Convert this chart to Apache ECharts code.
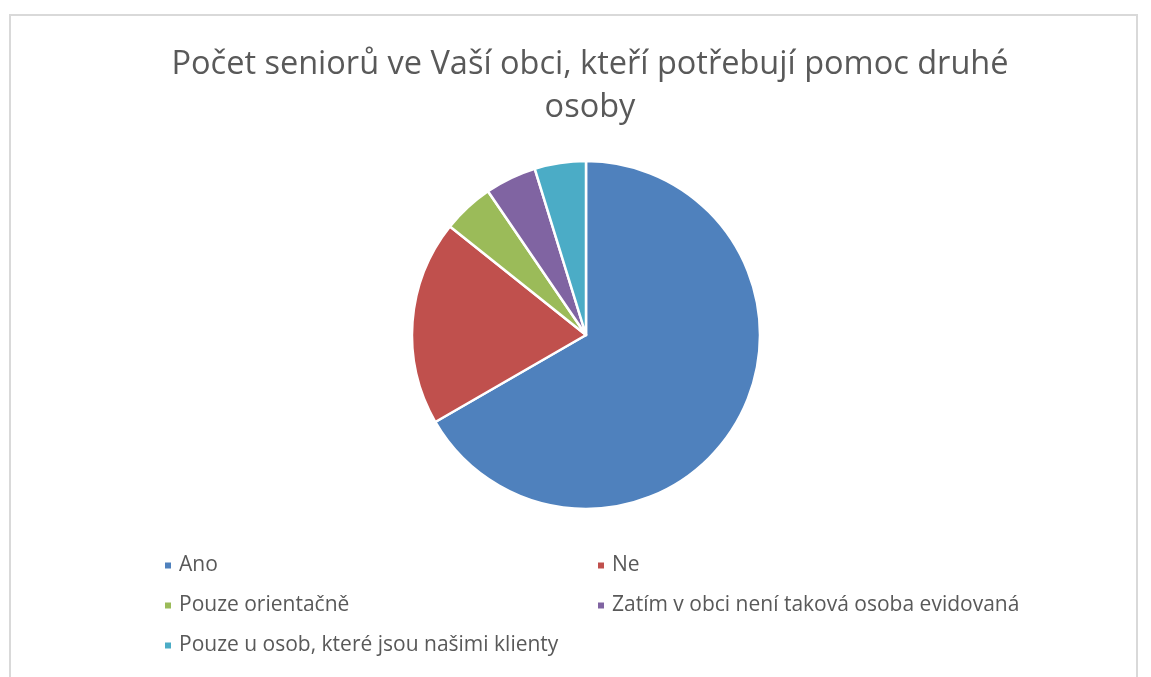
<!DOCTYPE html>
<html>
<head>
<meta charset="utf-8">
<script src="https://cdn.jsdelivr.net/npm/echarts@6/dist/echarts.min.js"></script>
<style>
html,body{margin:0;padding:0;background:#fff;}
#frame{position:absolute;left:9px;top:14px;width:1129px;height:700px;border:2px solid #d9d9d9;box-sizing:border-box;}
#chart{position:absolute;left:0;top:0;width:1151px;height:677px;}
</style>
</head>
<body>
<div id="frame"></div>
<div id="chart"></div>
<script>
const titleText = 'Počet seniorů ve Vaší obci, kteří potřebují pomoc druhé\nosoby';
const categories = ['Ano', 'Ne', 'Pouze orientačně', 'Zatím v obci není taková osoba evidovaná', 'Pouze u osob, které jsou našimi klienty'];
const values = [14, 4, 1, 1, 1];
const colors = ['#4F81BD', '#C0504D', '#9BBB59', '#8064A2', '#4BACC6'];
const legendCol1 = [categories[0], categories[2], categories[4]];
const legendCol2 = [categories[1], categories[3]];

const FONT = '"Open Sans", "Noto Sans", sans-serif';
const chart = echarts.init(document.getElementById('chart'));
const legendBase = {
  orient: 'vertical',
  top: 550,
  itemGap: 19,
  itemWidth: 8,
  itemHeight: 8,
  icon: 'rect',
  selectedMode: false,
  textStyle: {fontFamily: FONT, fontSize: 21, color: '#595959', padding: [0,0,0,2]}
};
chart.setOption({
  animation: false,
  color: colors,
  title: {
    text: titleText,
    left: 585,
    top: 38,
    textAlign: 'center',
    textStyle: {fontFamily: FONT, fontSize: 32.5, fontWeight: 'normal', color: '#595959', lineHeight: 43}
  },
  legend: [
    Object.assign({}, legendBase, {left: 158, data: legendCol1}),
    Object.assign({}, legendBase, {left: 591, data: legendCol2})
  ],
  series: [{
    type: 'pie',
    center: [586, 335],
    radius: 174,
    startAngle: 90,
    clockwise: true,
    label: {show: false},
    labelLine: {show: false},
    itemStyle: {borderColor: '#fff', borderWidth: 2.5},
    emphasis: {disabled: true},
    data: categories.map((c, i) => ({name: c, value: values[i]}))
  }]
});
</script>
</body>
</html>
